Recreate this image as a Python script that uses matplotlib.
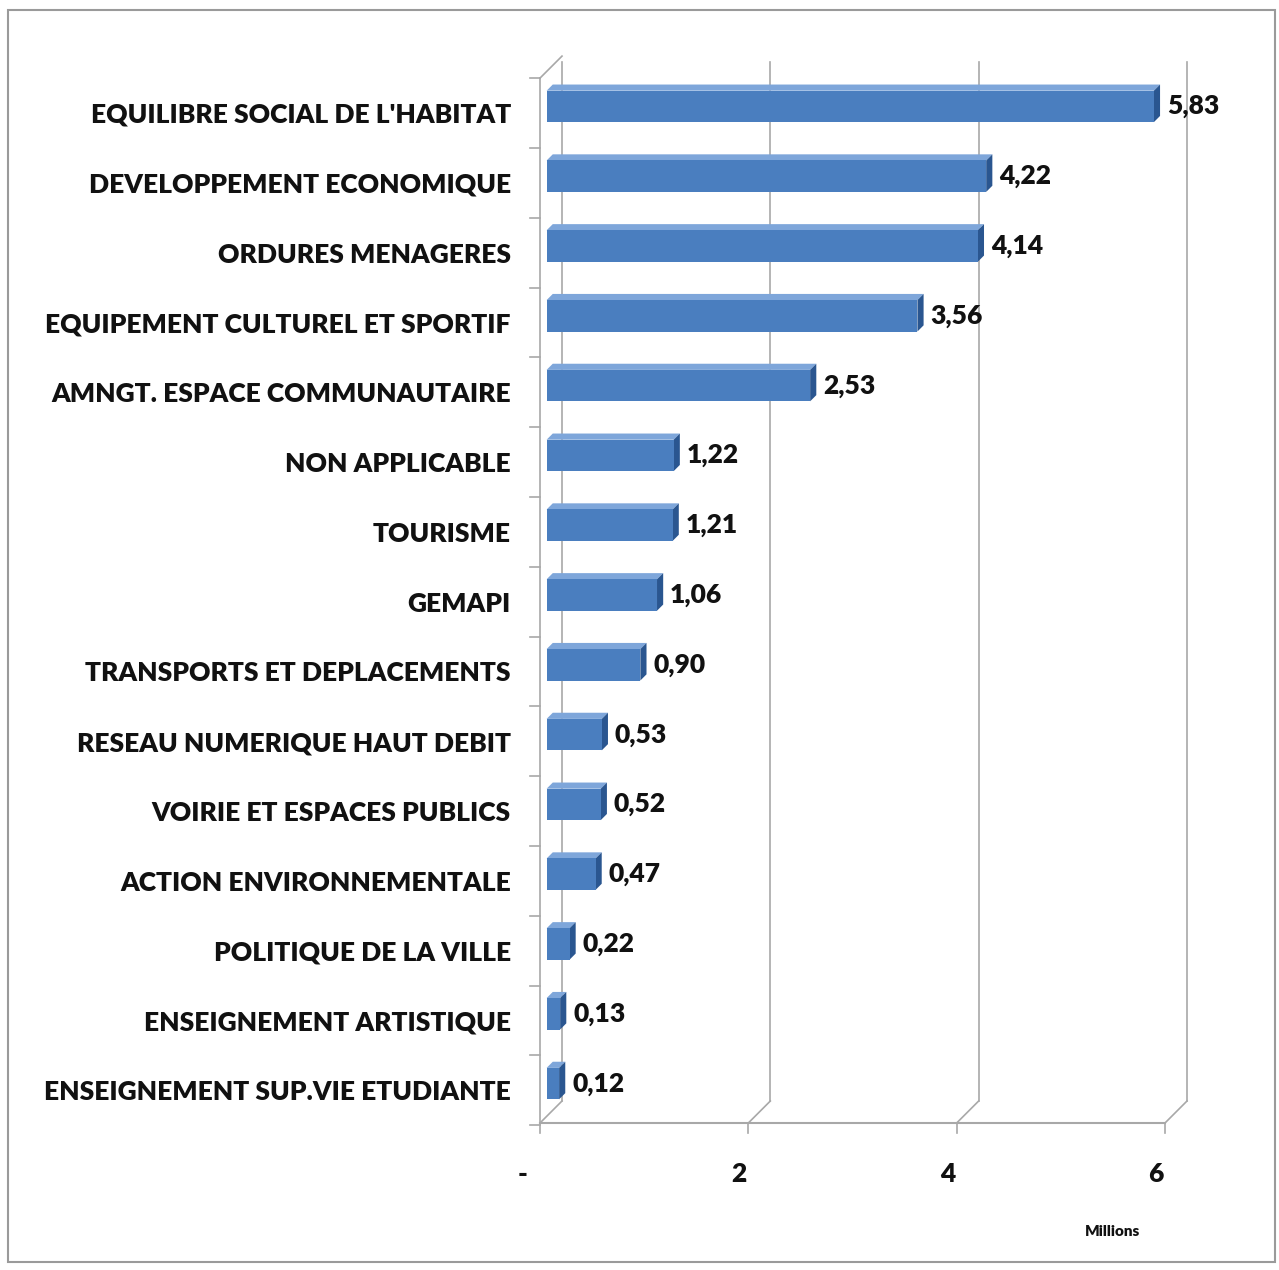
import numpy as np
import matplotlib
matplotlib.use("Agg")
import matplotlib.pyplot as plt
from matplotlib.patches import Polygon, Rectangle
import matplotlib.transforms as mtransforms

plt.rcParams['font.family'] = ['Lato', 'DejaVu Sans']

# data (millions)
categories = ["EQUILIBRE SOCIAL DE L'HABITAT", "DEVELOPPEMENT ECONOMIQUE",
              "ORDURES MENAGERES", "EQUIPEMENT CULTUREL ET SPORTIF",
              "AMNGT. ESPACE COMMUNAUTAIRE", "NON APPLICABLE", "TOURISME",
              "GEMAPI", "TRANSPORTS ET DEPLACEMENTS", "RESEAU NUMERIQUE HAUT DEBIT",
              "VOIRIE ET ESPACES PUBLICS", "ACTION ENVIRONNEMENTALE",
              "POLITIQUE DE LA VILLE", "ENSEIGNEMENT ARTISTIQUE",
              "ENSEIGNEMENT SUP.VIE ETUDIANTE"]
values = [5.83, 4.22, 4.14, 3.56, 2.53, 1.22, 1.21, 1.06, 0.90, 0.53,
          0.52, 0.47, 0.22, 0.13, 0.12]
ticks = [0, 2, 4, 6]
tick_labels = ['-', '2', '4', '6']

W, H = 1279, 1270
fig = plt.figure(figsize=(W / 100, H / 100), dpi=100)
fig.patch.set_facecolor('white')

# outer frame
fig.add_artist(Rectangle((8 / W, 8 / H), 1267 / W, 1252 / H, transform=fig.transFigure,
                         fill=False, ec='#9a9a9a', lw=1.5))

# plot area in pixels
x0, x1 = 540, 1200
yb, yt = 1123, 55
ax = fig.add_axes([x0 / W, (H - yb) / H, (x1 - x0) / W, (yb - yt) / H])
unit = (1165 - 540) / 6.0
row = 69.8
row0 = 113
ax.set_xlim(0, (x1 - x0) / unit)
ybot = (yb - row0) / row
ax.set_ylim(ybot, (yt - row0) / row)
for s in ax.spines.values():
    s.set_visible(False)

# depth of the 3d box in data units
dx = 22 / unit
dy = -22 / row
grid = '#a8a8a8'

# back wall gridlines + floor diagonals
wall_top = (62 - row0) / row
for t in ticks:
    ax.plot([t + dx, t + dx], [ybot + dy, wall_top], color=grid, lw=1.2, clip_on=False)
    ax.plot([t, t + dx], [ybot, ybot + dy], color=grid, lw=1.2, clip_on=False)
    ax.plot([t, t], [ybot, ybot + 10 / row], color=grid, lw=1.2, clip_on=False)
# front axis line
ax.plot([0, ticks[-1]], [ybot, ybot], color=grid, lw=1.5, clip_on=False)
# left wall
ax.plot([0, 0], [ybot, -0.5], color=grid, lw=1.2, clip_on=False)
ax.plot([0, dx], [-0.5, -0.5 + dy], color=grid, lw=1.2, clip_on=False)
for k in range(len(categories) + 1):
    yk = k - 0.5
    ax.plot([-10 / unit, 0], [yk, yk], color=grid, lw=1.2, clip_on=False)

# 3d bars
f0 = 0.3      # front face depth position
ft = 0.28     # bar thickness in depth
bh = 0.45     # bar height in rows
front = '#4a7ebf'
top = '#7ea6da'
side = '#2a5690'
ypos = np.arange(len(categories))
for yi, v in zip(ypos, values):
    ox, oy = f0 * dx, f0 * dy
    tx, ty = ft * dx, ft * dy
    yc = yi + oy
    ax.add_patch(Polygon([(ox, yc - bh / 2), (v + ox, yc - bh / 2),
                          (v + ox + tx, yc - bh / 2 + ty), (ox + tx, yc - bh / 2 + ty)],
                         closed=True, fc=top, ec='none', zorder=3))
    ax.add_patch(Polygon([(v + ox, yc - bh / 2), (v + ox + tx, yc - bh / 2 + ty),
                          (v + ox + tx, yc + bh / 2 + ty), (v + ox, yc + bh / 2)],
                         closed=True, fc=side, ec='none', zorder=3))
    ax.add_patch(Rectangle((ox, yc - bh / 2), v, bh, fc=front, ec='none', zorder=4))
    ax.annotate(f"{v:.2f}".replace('.', ','), (v + ox + tx, yc), xytext=(5, 0),
                textcoords='offset points', ha='left', va='center',
                fontsize=19, fontweight='heavy', color='#111111', zorder=5)

# category labels
ax.set_yticks(ypos)
ax.set_yticklabels(categories, fontsize=19, fontweight='heavy', color='#111111')
ax.tick_params(axis='y', length=0, pad=21)

# x ticks
ax.set_xticks(ticks)
ax.set_xticklabels(tick_labels, fontsize=19, fontweight='heavy', color='#111111')
ax.tick_params(axis='x', length=0, pad=28)
shift = mtransforms.ScaledTranslation(-9 / 100, 0, fig.dpi_scale_trans)
for lab in ax.get_xticklabels():
    lab.set_transform(lab.get_transform() + shift)
ax.get_xticklabels()[0].set_transform(ax.get_xticklabels()[0].get_transform()
                                      + mtransforms.ScaledTranslation(-8 / 100, 0, fig.dpi_scale_trans))

fig.text(1113 / W, 1 - 1232 / H, 'Millions', fontsize=11, fontweight='heavy',
         color='#111111', ha='center', va='center')

fig.savefig('out.png', dpi=100)
